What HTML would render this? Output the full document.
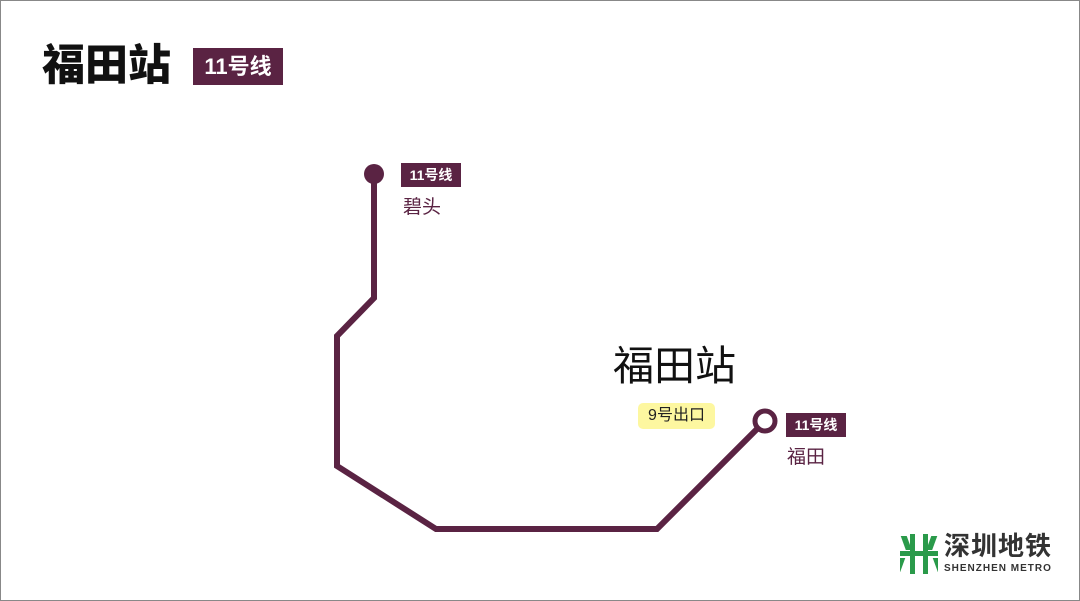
<!DOCTYPE html>
<html><head><meta charset="utf-8"><style>
html,body{margin:0;padding:0;background:#fff}
body{width:1080px;height:601px;overflow:hidden;position:relative;font-family:"Liberation Sans","Noto Sans CJK SC",sans-serif}
.frame{position:absolute;left:0;top:0;width:1078px;height:599px;border:1px solid #888}
.t{position:absolute;white-space:nowrap}
.badge{position:absolute;background:#5a2343;color:#fff;font-weight:bold;text-align:center}
</style></head><body>
<div class="frame"></div>
<div class="t" style="left:42px;top:40px;font-size:43px;font-weight:900;line-height:52px;color:#111">福田站</div>
<div class="badge" style="left:193px;top:48px;width:90px;height:37px;line-height:37px;font-size:22px">11号线</div>
<svg style="position:absolute;left:0;top:0" width="1080" height="601">
<polyline points="374,174 374,298 337,336 337,466 436,529 657,529 758,428" fill="none" stroke="#5a2343" stroke-width="6" stroke-linejoin="miter"/>
<circle cx="374" cy="174" r="10" fill="#5a2343"/>
<circle cx="765" cy="421" r="10" fill="#fff" stroke="#5a2343" stroke-width="5"/>
</svg>
<div class="badge" style="left:401px;top:163px;width:60px;height:24px;line-height:24px;font-size:14px">11号线</div>
<div class="t" style="left:403px;top:195px;font-size:19px;line-height:26px;color:#5a2343">碧头</div>
<div class="t" style="left:613px;top:341px;font-size:41px;line-height:50px;color:#111">福田站</div>
<div class="t" style="left:638px;top:403px;width:77px;height:26px;line-height:26px;font-size:16px;background:#fdf7a0;border-radius:5px;text-align:center;color:#222">9号出口</div>
<div class="badge" style="left:786px;top:413px;width:60px;height:24px;line-height:24px;font-size:14px">11号线</div>
<div class="t" style="left:787px;top:445px;font-size:19px;line-height:26px;color:#5a2343">福田</div>
<svg style="position:absolute;left:900px;top:534px" width="38" height="40" viewBox="0 0 38 40">
<g fill="#2a9a4a">
<rect x="0" y="2" width="6" height="14" transform="skewX(20)"/>
<rect x="32" y="2" width="6" height="14" transform="skewX(-20)"/>
<rect x="10" y="0" width="5" height="40"/>
<rect x="23" y="0" width="5" height="40"/>
<rect x="0" y="17" width="38" height="5"/>
<rect x="0" y="24" width="6" height="14" transform="skewX(-20) translate(8,0)"/>
<rect x="32" y="24" width="6" height="14" transform="skewX(20) translate(-8,0)"/>
</g></svg>
<div class="t" style="left:944px;top:530px;font-size:26px;line-height:32px;color:#333;font-weight:bold;letter-spacing:1px">深圳地铁</div>
<div class="t" style="left:944px;top:563px;font-size:10px;line-height:12px;color:#333;font-weight:bold;letter-spacing:1px">SHENZHEN METRO</div>
</body></html>
